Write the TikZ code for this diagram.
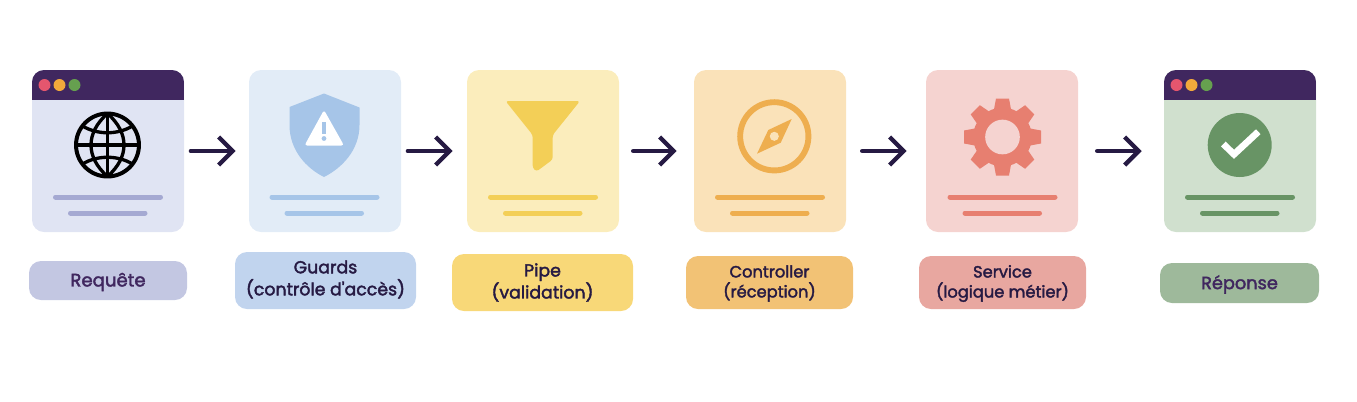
\documentclass[tikz,border=0pt]{standalone}
\usepackage{fontspec}
\setmainfont{Poppins}
\newfontfamily\labelfont[FakeBold=2.2]{Poppins}
\usetikzlibrary{arrows.meta}

\definecolor{barplum}{HTML}{40275F}
\definecolor{inkdark}{HTML}{261A43}
\definecolor{dotred}{HTML}{E5566E}
\definecolor{dotamber}{HTML}{F2A93B}
\definecolor{dotgreen}{HTML}{66A04F}
\definecolor{reqcard}{HTML}{E0E4F3}
\definecolor{reqline}{HTML}{A5A9D2}
\definecolor{reqlabel}{HTML}{C3C7E2}
\definecolor{guardcard}{HTML}{E2ECF7}
\definecolor{guardmark}{HTML}{A6C5E8}
\definecolor{guardlabel}{HTML}{C1D4EE}
\definecolor{pipecard}{HTML}{FBEDBC}
\definecolor{pipemark}{HTML}{F3CF57}
\definecolor{pipelabel}{HTML}{F8D878}
\definecolor{ctrlcard}{HTML}{FAE2B9}
\definecolor{ctrlmark}{HTML}{EEAE4F}
\definecolor{ctrllabel}{HTML}{F2C275}
\definecolor{servcard}{HTML}{F5D3D0}
\definecolor{servmark}{HTML}{E77F70}
\definecolor{servlabel}{HTML}{E8A7A0}
\definecolor{respcard}{HTML}{D0E0CE}
\definecolor{respmark}{HTML}{689465}
\definecolor{resplabel}{HTML}{9EB99B}

\tikzset{
  card/.style={rectangle,rounded corners=9pt,minimum width=114pt,minimum height=121.5pt,inner sep=0pt},
  pill/.style={rectangle,rounded corners=9pt,inner sep=0pt},
  tagtext/.style={inner sep=0pt,align=center,text=inkdark,font=\labelfont\fontsize{13}{16.5}\selectfont},
  smalltext/.style={tagtext,font=\labelfont\fontsize{12.2}{15}\selectfont},
  flow/.style={draw=inkdark,line width=3.4pt,line cap=round,-{Straight Barb[length=10.5pt,width=21pt,line width=3.2pt]}},
  textline/.style={line width=3.75pt,line cap=round}
}
% small grey text lines inside a card
\newcommand\cardlines[2]{%
\draw[textline,#2] (#1-52.5,197) -- (#1+52.5,197);
\draw[textline,#2] (#1-37.5,213) -- (#1+37,213);
}
% title bar with three dots
\newcommand\browserbar[1]{%
\begin{scope}
\clip[rounded corners=9pt] (#1-76,70) rectangle (#1+76,232);
\fill[barplum] (#1-76,70) rectangle (#1+76,99.5);
\end{scope}
\fill[dotred] (#1-63.5,85) circle (4.5pt);
\fill[dotamber] (#1-48.5,85) circle (4.5pt);
\fill[dotgreen] (#1-33.5,85) circle (4.5pt);
}

\begin{document}
\begin{tikzpicture}[x=0.75pt,y=-0.75pt]
	\useasboundingbox (0,0) rectangle (1357,401);

	% cards
	\node[card,fill=reqcard] (request) at (108,151) {};
	\node[card,fill=guardcard] (guards) at (325,151) {};
	\node[card,fill=pipecard] (pipe) at (543,151) {};
	\node[card,fill=ctrlcard] (controller) at (770,151) {};
	\node[card,fill=servcard] (service) at (1002,151) {};
	\node[card,fill=respcard] (response) at (1240,151) {};

	\browserbar{108}
	\browserbar{1240}

	\cardlines{108}{reqline}
	\cardlines{324.5}{guardmark}
	\cardlines{543}{pipemark}
	\cardlines{770}{ctrlmark}
	\cardlines{1002.5}{servmark}
	\cardlines{1240}{respmark}

	% globe
	\begin{scope}[shift={(107.5,145)},line width=2.5pt,draw=black]
		\draw[line width=3pt] (0,0) circle (23.6pt);
		\draw (0,-31.5) -- (0,31.5);
		\draw (-31.5,0) -- (31.5,0);
		\draw (0,-31.5) .. controls (-22,-12) and (-22,12) .. (0,31.5);
		\draw (0,-31.5) .. controls (22,-12) and (22,12) .. (0,31.5);
		\draw (-25,-19) .. controls (-10,-10) and (10,-10) .. (25,-19);
		\draw (-25,19) .. controls (-10,10) and (10,10) .. (25,19);
	\end{scope}

	% shield
	\fill[guardmark] (324,93.5) -- (359.5,107.5) -- (359.5,125)
		.. controls (359.5,150) and (342,168) .. (324,177)
		.. controls (306,168) and (289.5,150) .. (289.5,125)
		-- (289.5,107) -- cycle;
	\fill[white,rounded corners=2pt] (324,110) -- (344,145.5) -- (304.5,145.5) -- cycle;
	\draw[guardmark,line width=3pt] (324,122) -- (324,134);
	\fill[guardmark] (324,138.5) circle (1.8pt);

	% funnel
	\fill[pipemark,rounded corners=2pt] (505.5,101) -- (580,101) -- (552.7,135) -- (552.7,159.5)
		-- (536.5,171.5) -- (532.7,168) -- (532.7,135) -- cycle;

	% compass
	\draw[ctrlmark,line width=4.4pt] (774.3,136.3) circle (25.6pt);
	\fill[ctrlmark] (791.7,119) -- (780.7,142.7) -- (757,153.7) -- (768.3,130) -- cycle;
	\fill[ctrlcard] (774.3,136.3) circle (3.4pt);

	% gear
	\fill[servmark] (1002.5,137) circle (22pt);
	\foreach \a in {0,45,...,315}
		\fill[servmark,rotate around={\a:(1002.5,137)}] (993.5,112) -- (996,98.5) -- (1009,98.5) -- (1011.5,112) -- cycle;
	\fill[servcard] (1002.5,137) circle (13pt);

	% check
	\fill[respmark] (1239.7,145) circle (24pt);
	\draw[white,line width=5pt] (1223.3,144) -- (1234,154.3) -- (1258.3,131.7);

	% labels
	\node[pill,fill=reqlabel,minimum width=118.5pt,minimum height=29.25pt] (requesttag) at (108,280.5) {};
	\node[pill,fill=guardlabel,minimum width=135.75pt,minimum height=42.75pt] (guardstag) at (325.5,280.5) {};
	\node[pill,fill=pipelabel,minimum width=135.75pt,minimum height=42.75pt] (pipetag) at (542.5,282.5) {};
	\node[pill,fill=ctrllabel,minimum width=125.25pt,minimum height=39.75pt] (controllertag) at (769.5,282.5) {};
	\node[pill,fill=servlabel,minimum width=125.25pt,minimum height=39.75pt] (servicetag) at (1002.5,282.5) {};
	\node[pill,fill=resplabel,minimum width=119.25pt,minimum height=30pt] (responsetag) at (1239.5,283) {};

	\node[tagtext,text=barplum,font=\labelfont\fontsize{13.6}{16.5}\selectfont] (requesttext) at (108,282) {Requête};
	\node[tagtext] (guardstext) at (325.5,279.5) {Guards\\(contrôle d'accès)};
	\node[tagtext] (pipetext) at (542.5,282.5) {Pipe\\(validation)};
	\node[smalltext] (controllertext) at (769.5,283.5) {Controller\\(réception)};
	\node[smalltext] (servicetext) at (1002.5,283.5) {Service\\(logique métier)};
	\node[tagtext,text=barplum,font=\labelfont\fontsize{13.3}{16.5}\selectfont] (responsetext) at (1239.5,284.5) {Réponse};

	% arrows
	\draw[flow,shorten <=5pt,shorten >=9.75pt] (request) -- (guards);
	\draw[flow,shorten <=5pt,shorten >=10.5pt] (guards) -- (pipe);
	\draw[flow,shorten <=10.5pt,shorten >=12.75pt] (pipe) -- (controller);
	\draw[flow,shorten <=12pt,shorten >=14.25pt] (controller) -- (service);
	\draw[flow,shorten <=14.25pt,shorten >=16.5pt] (service) -- (response);
\end{tikzpicture}
\end{document}
